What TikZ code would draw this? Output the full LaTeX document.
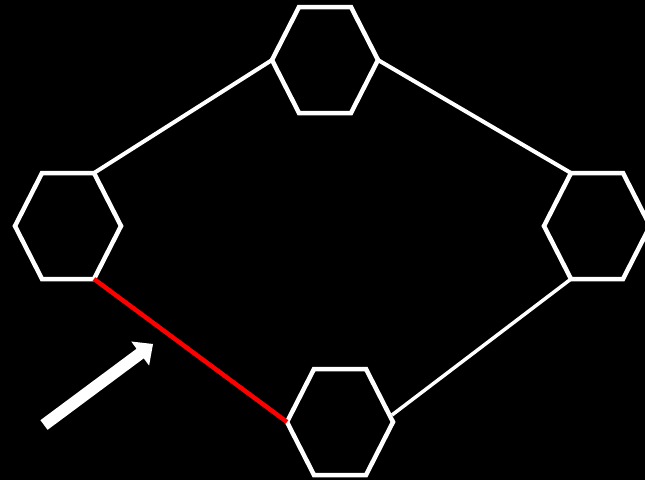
\documentclass[tikz,border=0pt]{standalone}
\usetikzlibrary{calc}
\tikzset{
  hexline/.style={draw=white, line width=4.5pt, line join=miter},
  link/.style={draw=white, line width=4pt},
  thinlink/.style={draw=white, line width=3.5pt},
  redlink/.style={draw=red, line width=4.5pt},
}
\newcommand{\hexat}[3]{%
  \coordinate (#1-c) at (#2,#3);
  \coordinate (#1-l) at (#2-53,#3);
  \coordinate (#1-r) at (#2+53,#3);
  \coordinate (#1-tl) at (#2-26,#3-53);
  \coordinate (#1-tr) at (#2+26,#3-53);
  \coordinate (#1-bl) at (#2-26,#3+53);
  \coordinate (#1-br) at (#2+26,#3+53);
  \draw[hexline] (#1-l) -- (#1-tl) -- (#1-tr) -- (#1-r) -- (#1-br) -- (#1-bl) -- cycle;
}
\begin{document}
\begin{tikzpicture}[x=1pt,y=-1pt]
\fill[black] (0,0) rectangle (645,480);
\useasboundingbox (0,0) rectangle (645,480);
\clip (0,0) rectangle (645,480);
\hexat{top}{325}{60}
\hexat{left}{68}{226}
\hexat{right}{597}{226}
\hexat{bot}{340}{422}
\draw[link] (left-tr) -- (top-l);
\draw[link] (top-r) -- (right-tl);
\coordinate (botend) at (392,415);
\draw[thinlink] (right-bl) -- (botend);
\draw[redlink] (left-br) -- (bot-l);
% arrow
\coordinate (atail) at (44,425);
\coordinate (atip) at (153,344);
\coordinate (abase) at ($(atip)!16pt!(atail)$);
\fill[white]
  ($(atail)!6pt!90:(atip)$) --
  ($(abase)!6pt!90:(atip)$) --
  ($(abase)!15pt!90:(atip)$) --
  (atip) --
  ($(abase)!15pt!-90:(atip)$) --
  ($(abase)!6pt!-90:(atip)$) --
  ($(atail)!6pt!-90:(atip)$) -- cycle;
\end{tikzpicture}
\end{document}
